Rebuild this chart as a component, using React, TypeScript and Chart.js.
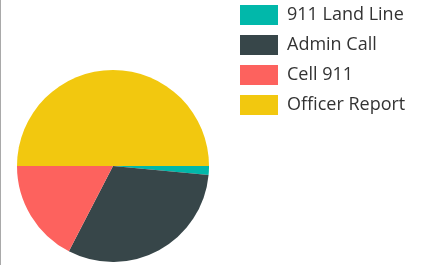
import React, { useEffect, useRef } from "react";
import { Chart, registerables } from "chart.js";

Chart.register(...registerables);

const categories = ["911 Land Line", "Admin Call", "Cell 911", "Officer Report"];
const values = [1.5, 31.1, 17.4, 50.0];
const colors = ["#01B8AA", "#374649", "#FD625E", "#F2C80F"];

const legendPlugin = {
  id: "customLegend",
  afterDraw(chart: any) {
    const ctx = chart.ctx;
    const labels = chart.data.labels as string[];
    const bg = chart.data.datasets[0].backgroundColor as string[];
    const x0 = 239;
    const y0 = 5;
    const rowH = 30;
    const bw = 38;
    const bh = 20;
    ctx.save();
    ctx.font = "18px 'Segoe UI', 'Open Sans', sans-serif";
    ctx.textBaseline = "middle";
    ctx.textAlign = "left";
    labels.forEach((lab, i) => {
      const y = y0 + i * rowH;
      ctx.fillStyle = bg[i];
      ctx.fillRect(x0, y, bw, bh);
      ctx.fillStyle = "#333333";
      ctx.fillText(lab, x0 + bw + 9, y + bh / 2);
    });
    ctx.restore();
  },
};

export default function App() {
  const ref = useRef<HTMLCanvasElement | null>(null);
  useEffect(() => {
    document.body.style.margin = "0";
    const chart = new Chart(ref.current!, {
      type: "pie",
      data: {
        labels: categories,
        datasets: [
          {
            data: values,
            backgroundColor: colors,
            borderWidth: 0,
          },
        ],
      },
      options: {
        animation: false,
        responsive: false,
        rotation: 90,
        layout: { padding: { top: 70, bottom: 3, left: 16, right: 216 } },
        plugins: {
          legend: { display: false },
          tooltip: { enabled: false },
        },
      },
      plugins: [legendPlugin],
    });
    return () => chart.destroy();
  }, []);
  return (
    <div
      style={{
        width: 425,
        height: 265,
        borderLeft: "1px solid #a9a9a9",
        boxSizing: "border-box",
        background: "#fff",
        overflow: "hidden",
      }}
    >
      <canvas ref={ref} width={424} height={265} style={{ display: "block" }} />
    </div>
  );
}
